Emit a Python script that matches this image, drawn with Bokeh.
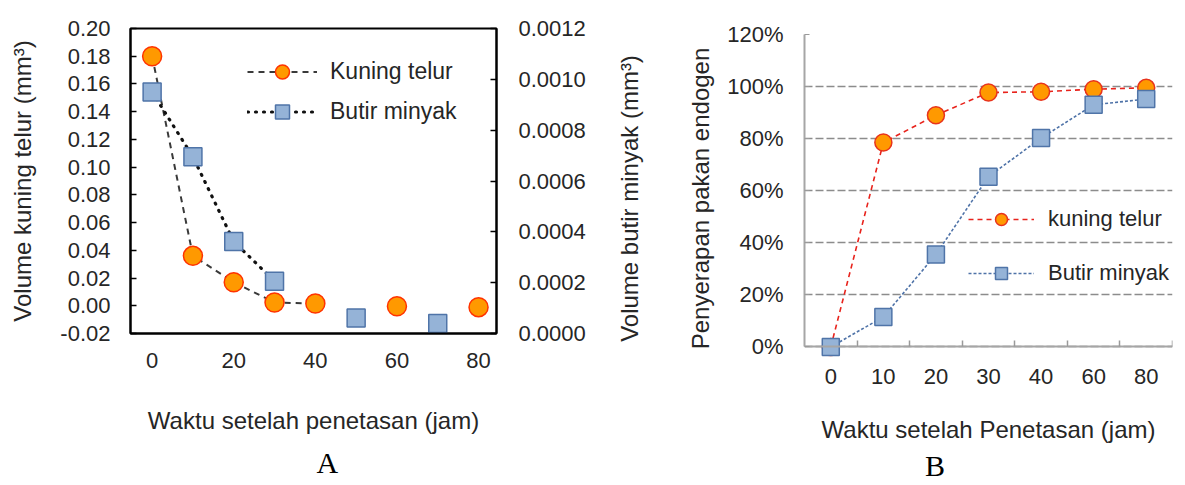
from bokeh.plotting import figure
from bokeh.models import (Range1d, LinearAxis, FixedTicker, NumeralTickFormatter,
                          CustomJSTickFormatter, Legend, LegendItem, Title)
from bokeh.layouts import row
from bokeh.embed import file_html
from bokeh.resources import INLINE

# ---------------- data: panel A ----------------
jam_a_kuning = [0, 10, 20, 30, 40, 60, 80]
vol_kuning = [0.180, 0.036, 0.017, 0.0024, 0.0016, -0.0003, -0.0010]
jam_a_butir = [0, 10, 20, 30, 50, 70]
vol_butir = [0.00095, 0.000695, 0.000362, 0.000206, 0.0000614, 0.000039]
n_line_kuning = 5   # trend line drawn through the first points only
n_line_butir = 4
ticks_a_x = [0, 20, 40, 60, 80]
ticks_a_left = [-0.02, 0.00, 0.02, 0.04, 0.06, 0.08, 0.10, 0.12, 0.14, 0.16, 0.18, 0.20]
ticks_a_right = [0.0, 0.0002, 0.0004, 0.0006, 0.0008, 0.0010, 0.0012]

# ---------------- data: panel B ----------------
jam_b = ["0", "10", "20", "30", "40", "60", "80"]
serap_kuning = [0.0, 0.785, 0.89, 0.977, 0.98, 0.99, 0.995]
serap_butir = [0.0, 0.115, 0.355, 0.654, 0.802, 0.93, 0.952]
ticks_b_y = [0.0, 0.2, 0.4, 0.6, 0.8, 1.0, 1.2]

FONT = "Liberation Sans"
SERIF = "Liberation Serif"
TXT = "#262626"
TICK_FS = "22px"
AXL_FS = "24px"
LEG_FS = "23px"
H = 485


def style_axis(ax):
    ax.major_label_text_font = FONT
    ax.major_label_text_font_size = TICK_FS
    ax.major_label_text_color = TXT
    ax.axis_label_text_font = FONT
    ax.axis_label_text_font_size = AXL_FS
    ax.axis_label_text_font_style = "normal"
    ax.axis_label_text_color = TXT
    ax.minor_tick_line_color = None


def no_align(fig):
    if "frame_align" in fig.properties():
        fig.frame_align = False


# ================= Panel A =================
pa = figure(width=612, height=H, x_range=Range1d(-5.3, 84.4), y_range=Range1d(-0.02, 0.20),
            output_backend="svg", toolbar_location=None,
            min_border_left=130, min_border_right=116, min_border_top=28, min_border_bottom=150)
no_align(pa)
pa.background_fill_color = "white"
pa.border_fill_color = "white"
pa.grid.visible = False
pa.outline_line_color = "black"
pa.outline_line_width = 2
pa.extra_y_ranges = {"butir": Range1d(0, 0.0012)}

xa = pa.xaxis[0]
style_axis(xa)
xa.ticker = FixedTicker(ticks=ticks_a_x)
xa.major_tick_line_color = None
xa.axis_line_color = "black"
xa.axis_line_width = 2
xa.major_label_standoff = 13
xa.axis_label = "Waktu setelah penetasan (jam)"
xa.axis_label_standoff = 36

ya = pa.yaxis[0]
style_axis(ya)
ya.ticker = FixedTicker(ticks=ticks_a_left)
ya.formatter = NumeralTickFormatter(format="0.00")
ya.major_tick_in = 6
ya.major_tick_out = 0
ya.major_tick_line_width = 1.5
ya.axis_line_color = "black"
ya.axis_line_width = 2
ya.major_label_standoff = 20
ya.axis_label = "Volume kuning telur (mm³)"
ya.axis_label_standoff = 21

yr = LinearAxis(y_range_name="butir", ticker=FixedTicker(ticks=ticks_a_right),
                formatter=NumeralTickFormatter(format="0.0000"))
style_axis(yr)
yr.major_tick_in = 6
yr.major_tick_out = 0
yr.major_tick_line_width = 1.5
yr.axis_line_color = "black"
yr.axis_line_width = 2
yr.major_label_standoff = 22
pa.add_layout(yr, "right")

l_k = pa.line(jam_a_kuning[:n_line_kuning], vol_kuning[:n_line_kuning],
              line_color="#3a3a3a", line_width=2, line_dash="6 5")
l_b = pa.line(jam_a_butir[:n_line_butir], vol_butir[:n_line_butir], y_range_name="butir",
              line_color="#111111", line_width=3.2, line_dash="1 7", line_cap="round")
s_k = pa.scatter(jam_a_kuning, vol_kuning, marker="circle", size=19,
                 fill_color="#ff9900", line_color="#ff3300", line_width=1.5)
s_b = pa.scatter(jam_a_butir, vol_butir, y_range_name="butir", marker="square", size=18,
                 fill_color="#95b3d7", line_color="#4f74a8", line_width=1.5)

leg_a = Legend(items=[LegendItem(label="Kuning telur", renderers=[l_k, s_k]),
                      LegendItem(label="Butir minyak", renderers=[l_b, s_b])],
               location=(117, 204), glyph_width=70, glyph_height=35, label_height=35,
               spacing=5, label_standoff=13, padding=0, margin=0,
               border_line_color=None, background_fill_alpha=0,
               label_text_font=FONT, label_text_font_size=LEG_FS, label_text_color=TXT)
pa.add_layout(leg_a)

pa.add_layout(Title(text="A", align="left", offset=186, standoff=14, vertical_align="bottom",
                    text_font=SERIF, text_font_size="30px", text_font_style="normal",
                    text_color="black"), "below")

# ================= Panel B =================
xb = list(range(len(jam_b)))
pb = figure(width=568, height=H, x_range=Range1d(-0.5, len(jam_b) - 0.5),
            y_range=Range1d(-0.06, 1.2),
            output_backend="svg", toolbar_location=None,
            min_border_left=191, min_border_right=8, min_border_top=34, min_border_bottom=123)
no_align(pb)
pb.background_fill_color = "white"
pb.border_fill_color = "white"
pb.outline_line_color = None
pb.xgrid.visible = False
pb.ygrid.ticker = FixedTicker(ticks=ticks_b_y)
pb.ygrid.grid_line_color = "#8c8c8c"
pb.ygrid.grid_line_dash = "8 3"
pb.ygrid.grid_line_width = 1.3

# category labels (at the bottom of the frame)
xbx = pb.xaxis[0]
style_axis(xbx)
xbx.ticker = FixedTicker(ticks=xb)
xbx.formatter = CustomJSTickFormatter(
    args=dict(labels=jam_b),
    code="const i = Math.round(tick); return (i >= 0 && i < labels.length) ? labels[i] : '';")
xbx.major_tick_line_color = None
xbx.axis_line_color = None
xbx.major_label_standoff = 0
xbx.axis_label = "Waktu setelah Penetasan (jam)"
xbx.axis_label_standoff = 29

ybx = pb.yaxis[0]
style_axis(ybx)
ybx.ticker = FixedTicker(ticks=ticks_b_y)
ybx.formatter = NumeralTickFormatter(format="0%")
ybx.bounds = (0, 1.2)
ybx.major_tick_in = 5
ybx.major_tick_out = 0
ybx.major_tick_line_color = "#9a9a9a"
ybx.axis_line_color = "#a6a6a6"
ybx.axis_line_width = 2
ybx.major_label_standoff = 21
ybx.axis_label = "Penyerapan pakan endogen"
ybx.axis_label_standoff = 10

# title of the right-hand axis of panel A (sits left of panel B's axis)
yr_title = LinearAxis(ticker=FixedTicker(ticks=[]))
style_axis(yr_title)
yr_title.axis_line_color = None
yr_title.major_tick_line_color = None
yr_title.major_tick_out = 0
yr_title.major_label_standoff = 0
yr_title.axis_label = "Volume butir minyak (mm³)"
yr_title.axis_label_standoff = 42
pb.add_layout(yr_title, "left")

pb.add_layout(Title(text="B", align="left", offset=120.6, standoff=2, vertical_align="bottom",
                    text_font=SERIF, text_font_size="30px", text_font_style="normal",
                    text_color="black"), "below")

# axis line at 0 % with tick marks between categories
x_line = LinearAxis(ticker=FixedTicker(ticks=[], minor_ticks=[i + 0.5 for i in xb]))
x_line.fixed_location = 0
x_line.axis_line_color = "#a6a6a6"
x_line.axis_line_width = 2
x_line.major_tick_line_color = None
x_line.major_tick_out = 0
x_line.major_label_standoff = 0
x_line.minor_tick_line_color = "#9a9a9a"
x_line.minor_tick_line_width = 1.5
x_line.minor_tick_in = 6
x_line.minor_tick_out = 0
pb.add_layout(x_line, "below")

lk = pb.line(xb, serap_kuning, line_color="#e8231c", line_width=1.6, line_dash="5 4")
lb = pb.line(xb, serap_butir, line_color="#4f73a8", line_width=1.6, line_dash="3 2")
sk = pb.scatter(xb, serap_kuning, marker="circle", size=17,
                fill_color="#ff9900", line_color="#e8331c", line_width=1.5)
sb = pb.scatter(xb, serap_butir, marker="square", size=17,
                fill_color="#95b3d7", line_color="#4f74a8", line_width=1.5)

leg_b = Legend(items=[LegendItem(label="kuning telur", renderers=[lk, sk]),
                      LegendItem(label="Butir minyak", renderers=[lb, sb])],
               location=(164, 74), glyph_width=66, glyph_height=30, label_height=30,
               spacing=24, label_standoff=14, padding=0, margin=0,
               border_line_color=None, background_fill_alpha=0,
               label_text_font=FONT, label_text_font_size="22px", label_text_color=TXT)
pb.add_layout(leg_b)

layout = row(pa, pb)
open("out.html", "w").write(file_html(layout, INLINE))
